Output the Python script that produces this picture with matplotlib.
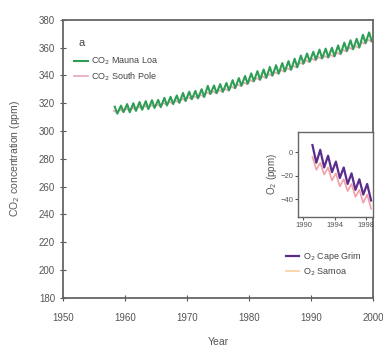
import numpy as np
import matplotlib.pyplot as plt

# CO2 Mauna Loa: seasonal high (May) and low (Oct) for each year, ppm
ml_years = list(range(1958, 2000))
ml_high = [317.5, 318.3, 319.4, 320.0, 320.9, 321.5, 322.2, 322.4, 323.9, 324.6,
           325.6, 327.4, 328.3, 328.9, 330.1, 332.5, 332.8, 333.8, 334.6, 336.6,
           338.1, 339.6, 341.5, 343.1, 344.3, 346.1, 347.4, 348.9, 350.3, 352.0,
           354.3, 355.8, 357.0, 358.6, 359.3, 359.9, 361.6, 363.6, 365.3, 366.4,
           369.3, 371.0]
ml_low = [312.5, 313.6, 313.5, 314.5, 315.3, 315.8, 316.6, 317.2, 318.4, 319.4,
          320.3, 321.6, 322.9, 323.5, 324.5, 326.7, 327.2, 328.2, 329.3, 330.9,
          332.6, 334.0, 335.9, 336.9, 338.3, 339.9, 341.3, 342.9, 344.1, 345.9,
          348.6, 349.9, 351.4, 352.3, 353.0, 353.8, 355.6, 357.6, 358.9, 360.1,
          363.3, 364.6]

# CO2 South Pole: seasonal high and low, ppm
sp_years = list(range(1958, 2000))
sp_high = [314.6, 315.4, 316.1, 316.8, 317.6, 318.1, 318.7, 319.0, 320.2, 321.0,
           321.8, 323.3, 324.3, 325.0, 326.0, 327.9, 328.5, 329.4, 330.3, 331.9,
           333.5, 334.9, 336.7, 338.1, 339.4, 341.0, 342.4, 343.9, 345.2, 346.9,
           349.3, 350.8, 352.1, 353.3, 354.0, 354.7, 356.4, 358.4, 360.0, 361.1,
           364.0, 365.7]
sp_low = [313.4, 314.2, 314.9, 315.6, 316.4, 316.9, 317.5, 317.8, 319.0, 319.8,
          320.6, 322.1, 323.1, 323.8, 324.8, 326.7, 327.3, 328.2, 329.1, 330.7,
          332.3, 333.7, 335.5, 336.9, 338.2, 339.8, 341.2, 342.7, 344.0, 345.7,
          348.1, 349.6, 350.9, 352.1, 352.8, 353.5, 355.2, 357.2, 358.8, 359.9,
          362.8, 364.5]

# O2 (ppm) inset: summer high and winter low per year
o2_years = list(range(1991, 1999))
cg_high = [6, 2, -3, -8, -13, -18, -23, -27]
cg_low = [-9, -13, -17, -22, -27, -32, -36, -41]
sm_high = [-4, -9, -13, -18, -23, -27, -32, -36]
sm_low = [-15, -19, -24, -29, -33, -38, -43, -48]


def seasonal(years, high, low, t_high, t_low):
    t, v = [], []
    for y, h, l in zip(years, high, low):
        t += [y + t_high, y + t_low]
        v += [h, l]
    return np.array(t), np.array(v)


plt.rcParams['font.family'] = ['Liberation Sans', 'DejaVu Sans']
fig = plt.figure(figsize=(3.83, 3.61), dpi=100)
ax = fig.add_axes([0.164, 0.175, 0.81, 0.770])

t_sp, v_sp = seasonal(sp_years, sp_high, sp_low, 0.2, 0.7)
t_ml, v_ml = seasonal(ml_years, ml_high, ml_low, 0.37, 0.79)
l_sp, = ax.plot(t_sp, v_sp, color='#eaa6b8', lw=1.2, label='CO$_2$ South Pole')
l_ml, = ax.plot(t_ml, v_ml, color='#2f9e55', lw=1.5, label='CO$_2$ Mauna Loa')

ax.set_xlim(1950, 2000)
ax.set_ylim(180, 380)
ax.set_xticks(range(1950, 2001, 10))
ax.set_yticks(range(180, 381, 20))
ax.tick_params(axis='both', labelsize=7, colors='#555555', length=4, direction='inout')
ax.tick_params(axis='x', pad=9)
for s in ax.spines.values():
    s.set_color('#666666')
    s.set_linewidth(1.3)
ax.set_xlabel('Year', fontsize=7.5, color='#555555', labelpad=10)
ax.set_ylabel('CO$_2$ concentration (ppm)', fontsize=7.5, color='#555555', labelpad=12)

ax.text(0.05, 0.905, 'a', transform=ax.transAxes, fontsize=8, color='#444444')
ax.legend(handles=[l_ml, l_sp], loc='upper left', bbox_to_anchor=(0.01, 0.9),
          frameon=False, fontsize=6.5, handlelength=1.5, handletextpad=0.4,
          labelspacing=0.35, labelcolor='#444444')

# inset with O2
ins = fig.add_axes([0.778, 0.399, 0.196, 0.235])
t_cg, v_cg = seasonal(o2_years, cg_high, cg_low, 0.15, 0.65)
t_sm, v_sm = seasonal(o2_years, sm_high, sm_low, 0.15, 0.65)
l_sm, = ins.plot(t_sm, v_sm, color='#f2a0a8', lw=1.2)
l_cg, = ins.plot(t_cg, v_cg, color='#5a2d8c', lw=1.6)
ins.set_xlim(1989.3, 1998.9)
ins.set_ylim(-55, 17)
ins.set_xticks([1990, 1994, 1998])
ins.set_yticks([0, -20, -40])
ins.tick_params(axis='both', labelsize=5.5, colors='#555555', length=2, pad=1.5)
for s in ins.spines.values():
    s.set_color('#666666')
    s.set_linewidth(1.0)
ins.set_ylabel('O$_2$ (ppm)', fontsize=7, color='#555555', labelpad=1)

fig.legend([l_cg, l_sm], ['O$_2$ Cape Grim', 'O$_2$ Samoa'],
           loc='upper left', bbox_to_anchor=(0.725, 0.33), frameon=False,
           fontsize=6.5, handlelength=1.5, handletextpad=0.4, labelspacing=0.35,
           labelcolor='#444444')
l_sm_leg = fig.legends[0].get_lines()[1]
l_sm_leg.set_color('#f5cfa0')

fig.savefig('out.png', dpi=100)
